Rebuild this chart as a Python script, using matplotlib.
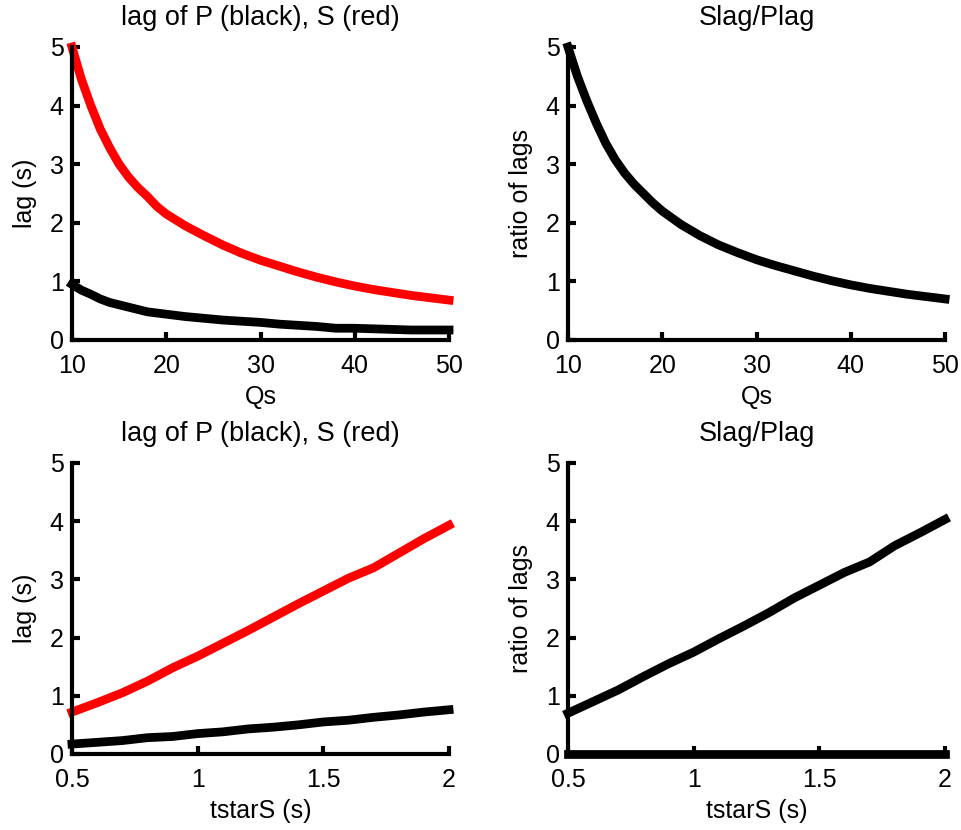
import numpy as np
import matplotlib
matplotlib.use("Agg")
import matplotlib.pyplot as plt

plt.rcParams['font.family'] = ['Liberation Sans', 'DejaVu Sans']

# Qs sweep
qs = [10, 11, 12, 13, 14, 15, 16, 17, 18, 19, 20, 22, 24, 26, 28, 30, 32, 34, 36, 38,
      40, 42, 44, 46, 48, 50]
s_lag_q = [5.0, 4.45, 4.0, 3.6, 3.28, 3.0, 2.78, 2.6, 2.45, 2.28, 2.15, 1.95, 1.78,
           1.62, 1.48, 1.36, 1.26, 1.16, 1.07, 0.99, 0.92, 0.86, 0.81, 0.76, 0.72, 0.68]
p_lag_q = [0.95, 0.85, 0.78, 0.7, 0.64, 0.6, 0.56, 0.52, 0.48, 0.46, 0.44, 0.4, 0.37,
           0.34, 0.32, 0.3, 0.27, 0.25, 0.23, 0.2, 0.2, 0.19, 0.18, 0.17, 0.17, 0.17]
ratio_q = [5.0, 4.5, 4.08, 3.7, 3.36, 3.08, 2.85, 2.66, 2.5, 2.34, 2.2, 1.97, 1.78,
           1.62, 1.49, 1.37, 1.27, 1.18, 1.09, 1.01, 0.94, 0.88, 0.83, 0.78, 0.74, 0.70]

# tstarS sweep
tstar = [0.5, 0.6, 0.7, 0.8, 0.9, 1.0, 1.1, 1.2, 1.3, 1.4, 1.5, 1.6, 1.7, 1.8, 1.9, 2.0]
s_lag_t = [0.72, 0.88, 1.05, 1.25, 1.48, 1.68, 1.9, 2.12, 2.35, 2.58, 2.8, 3.02, 3.2,
           3.45, 3.7, 3.93]
p_lag_t = [0.17, 0.2, 0.23, 0.28, 0.3, 0.35, 0.38, 0.43, 0.46, 0.5, 0.55, 0.58, 0.63,
           0.67, 0.72, 0.76]
ratio_t = [0.7, 0.9, 1.1, 1.33, 1.55, 1.75, 1.98, 2.2, 2.43, 2.68, 2.9, 3.12, 3.3,
           3.58, 3.8, 4.03]
zero_t = [0.0] * len(tstar)

LW = 6.3
TICK_FS = 18
LABEL_FS = 18
TITLE_FS = 19.5

fig = plt.figure(figsize=(9.62, 8.30), dpi=100)

positions = [
    [0.0748, 0.5904, 0.392, 0.353],
    [0.5904, 0.5904, 0.392, 0.353],
    [0.0748, 0.0916, 0.392, 0.3506],
    [0.5904, 0.0916, 0.392, 0.3506],
]
axes = [fig.add_axes(p) for p in positions]


def style(ax, xlim, xticks, xlabel, ylabel, title):
    ax.set_xlim(xlim)
    ax.set_ylim(0, 5)
    ax.set_xticks(xticks)
    ax.set_yticks([0, 1, 2, 3, 4, 5])
    ax.set_xticklabels([('%g' % v) for v in xticks])
    ax.spines['top'].set_visible(False)
    ax.spines['right'].set_visible(False)
    ax.spines['left'].set_linewidth(3)
    ax.spines['bottom'].set_linewidth(3)
    ax.tick_params(direction='in', length=6, width=3, labelsize=TICK_FS)
    ax.tick_params(axis='x', pad=10)
    ax.tick_params(axis='y', pad=6)
    ax.set_xlabel(xlabel, fontsize=LABEL_FS, labelpad=5)
    ax.set_ylabel(ylabel, fontsize=LABEL_FS, labelpad=9)
    ax.set_title(title, fontsize=TITLE_FS, pad=16)


ax = axes[0]
ax.plot(qs, s_lag_q, color='#ff0000', lw=LW, clip_on=False)
ax.plot(qs, p_lag_q, color='black', lw=LW, clip_on=False)
style(ax, (10, 50), [10, 20, 30, 40, 50], 'Qs', 'lag (s)', 'lag of P (black), S (red)')

ax = axes[1]
ax.plot(qs, ratio_q, color='black', lw=LW, clip_on=False)
style(ax, (10, 50), [10, 20, 30, 40, 50], 'Qs', 'ratio of lags', 'Slag/Plag')

ax = axes[2]
ax.plot(tstar, s_lag_t, color='#ff0000', lw=LW, clip_on=False)
ax.plot(tstar, p_lag_t, color='black', lw=LW, clip_on=False)
style(ax, (0.5, 2), [0.5, 1, 1.5, 2], 'tstarS (s)', 'lag (s)', 'lag of P (black), S (red)')

ax = axes[3]
ax.plot(tstar, ratio_t, color='black', lw=LW, clip_on=False)
ax.plot(tstar, zero_t, color='black', lw=LW, clip_on=False)
style(ax, (0.5, 2), [0.5, 1, 1.5, 2], 'tstarS (s)', 'ratio of lags', 'Slag/Plag')

fig.savefig('out.png', dpi=100)
